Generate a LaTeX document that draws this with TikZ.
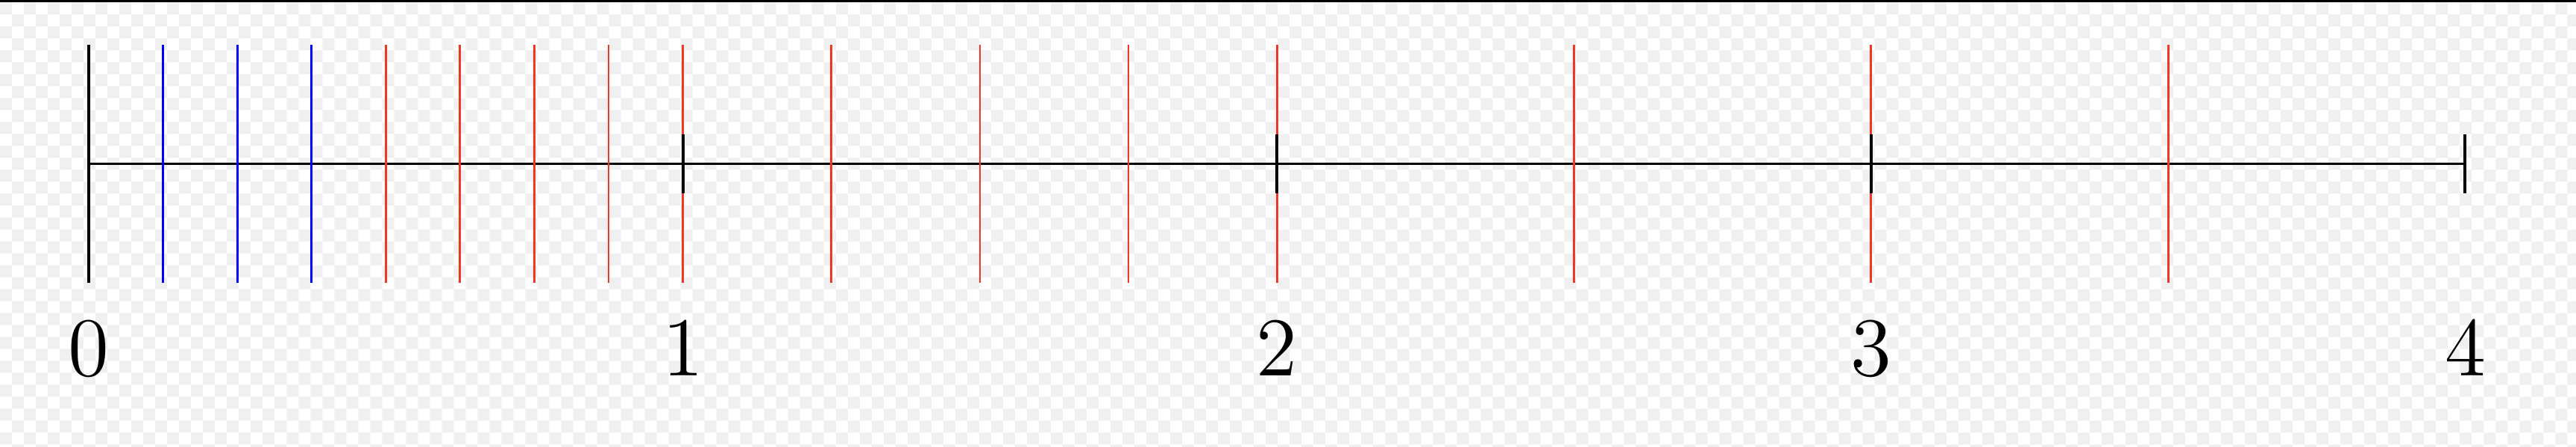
\documentclass[tikz,border=0pt]{standalone}
\usepackage{fontspec}
\definecolor{tickred}{RGB}{236,56,40}
\definecolor{tickblue}{RGB}{0,0,255}
\definecolor{checkgray}{RGB}{240,240,240}
\begin{document}
\begin{tikzpicture}[x=3cm,y=3cm,
  axisline/.style={line width=0.36pt,black},
  longtick/.style={line width=0.3pt},
  shorttick/.style={line width=0.43pt,black},
  numlabel/.style={anchor=base,inner sep=0pt,font=\fontsize{12.2}{14}\selectfont}]
\useasboundingbox (-0.14939,-0.47515) rectangle (4.18654,0.27555);
% background (transparency checker) and top rule
\begin{scope}[shift={(-0.44817cm,0.82665cm)},x=0.0037661cm,y=-0.0037661cm]
  \clip (0,0) rectangle (3454,598);
  \fill[white] (0,0) rectangle (3454,598);
  \fill[checkgray]
    \foreach \i in {0,2,...,214} { \foreach \j in {0,2,...,36} { (\i*16,3.3+\j*16) rectangle ++(16,16) } }
    \foreach \i in {1,3,...,215} { \foreach \j in {1,3,...,37} { (\i*16,3.3+\j*16) rectangle ++(16,16) } };
  \fill[black] (0,0) rectangle (3454,3.3);
\end{scope}
% axis
\coordinate (a0) at (0,0);
\coordinate (a4) at (4,0);
\draw[axisline] (a0) -- (a4);
% long ticks
\draw[longtick,black,line width=0.43pt] (0,-0.2) -- (0,0.2);
\foreach \x in {0.125,0.25,0.375} \draw[longtick,tickblue] (\x,-0.2) -- (\x,0.2);
\foreach \x in {0.5,0.625,0.75,0.875,1,1.25,1.5,1.75,2,2.5,3,3.5} \draw[longtick,tickred] (\x,-0.2) -- (\x,0.2);
% short black ticks
\foreach \x in {0,1,2,3,4} \draw[shorttick] (\x,-0.05) -- (\x,0.05);
% labels
\foreach \x in {0,1,2,3,4} \node[numlabel] (n\x) at (\x,-0.3565) {$\x$};
\end{tikzpicture}
\end{document}
